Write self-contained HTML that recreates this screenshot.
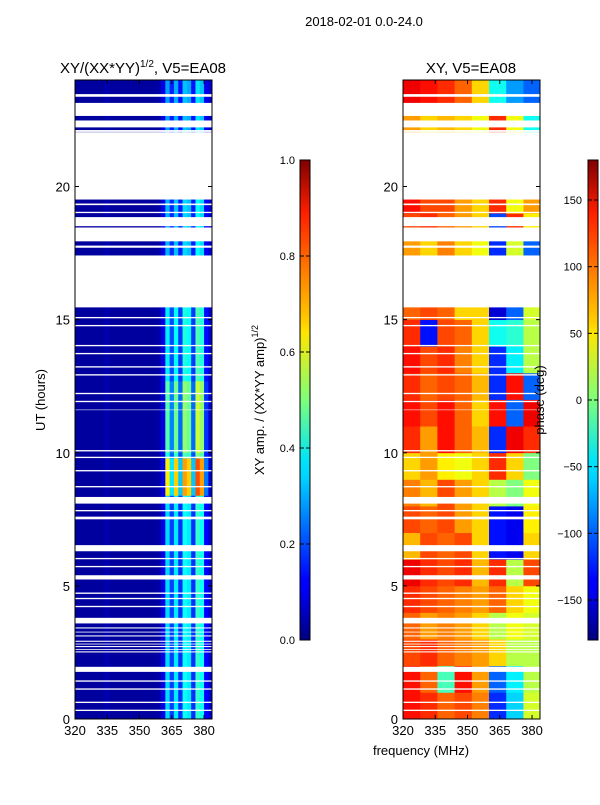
<!DOCTYPE html>
<html><head><meta charset="utf-8"><style>
body{margin:0;background:#fff;}
svg text{font-family:"Liberation Sans","DejaVu Sans",sans-serif;fill:#000;}
</style></head><body>
<svg id="fig" width="600" height="800" xmlns="http://www.w3.org/2000/svg">
<defs>
<linearGradient id="jet" x1="0" y1="1" x2="0" y2="0">
<stop offset="0" stop-color="#00007f"/><stop offset="0.11" stop-color="#0000ff"/><stop offset="0.125" stop-color="#0000ff"/>
<stop offset="0.34" stop-color="#00d4ff"/><stop offset="0.375" stop-color="#00e4f8"/><stop offset="0.5" stop-color="#7dff7a"/>
<stop offset="0.64" stop-color="#ffe600"/><stop offset="0.66" stop-color="#ffd000"/><stop offset="0.89" stop-color="#ff1e00"/>
<stop offset="1" stop-color="#7f0000"/></linearGradient>
</defs>
<text x="364" y="26" text-anchor="middle" font-size="13">2018-02-01 0.0-24.0</text>
<text x="143" y="73" text-anchor="middle" font-size="15">XY/(XX*YY)<tspan font-size="10" dy="-6">1/2</tspan><tspan dy="6">, V5=EA08</tspan></text>
<text x="471" y="73" text-anchor="middle" font-size="15">XY, V5=EA08</text>
<g id="ampPanel"></g>
<g id="phPanel"></g>
<g id="axes"></g>
<text transform="translate(45,400) rotate(-90)" text-anchor="middle" font-size="13">UT (hours)</text>
<text x="421" y="755" text-anchor="middle" font-size="13">frequency (MHz)</text>
<rect x="300" y="160" width="10" height="480" fill="url(#jet)" stroke="#000" stroke-width="1"/>
<rect x="588" y="160" width="10" height="480" fill="url(#jet)" stroke="#000" stroke-width="1"/>
<g id="cb"></g>
<text transform="translate(264,400) rotate(-90)" text-anchor="middle" font-size="13">XY amp. / (XX*YY amp)<tspan font-size="9" dy="-6">1/2</tspan></text>
<text transform="translate(544,400) rotate(-90)" text-anchor="middle" font-size="13">phase (deg)</text>
</svg>
<script>
// ---- data ----
const freqStart = 320, freqEnd = 383.7, tMax = 24;
const ampColFreqs = [320,322,324,326,328,330,332,334,336,338,340,342,344,346,348,350,352,354,356,358,360,362,364,366,368,370,372,374,376,378,380,382];
const ampColProfile = [0.03,0.03,0.03,0.03,0.03,0.03,0.03,0.05,0.03,0.03,0.03,0.03,0.03,0.03,0.03,0.03,0.03,0.03,0.03,0.04,0.1,0.4,0.22,0.42,0.2,0.45,0.42,0.2,0.5,0.45,0.15,0.08];
const ampRowGain = [[0,8.4,0.85],[8.4,9.8,1.6],[9.8,10,1.0],[10,12.7,1.15],[12.7,15.5,0.9],[15.5,19.6,0.75],[19.6,22.5,0.7],[22.5,24,0.7]];
const phaseColFreqs = [320,328,336,344,352,360,368,376];
const phaseBlocks = [
[130,120,100,110,90,-120,-60,30],[130,100,-20,130,80,-100,-50,20],[110,120,100,90,80,60,20,20],
[100,80,90,80,60,20,40,30],[120,110,100,90,80,100,60,40],[140,120,110,120,70,120,20,110],
[70,110,100,110,60,-130,-140,60],[110,100,110,80,60,-130,-140,50],[90,70,110,80,60,20,0,40],
[60,80,50,40,60,120,60,0],[120,80,130,100,70,-120,140,120],[130,110,130,100,60,130,-100,140],
[120,100,110,100,70,-120,130,-100],[130,110,120,90,60,-120,-50,20],[120,-130,110,100,60,-40,-30,20],
[100,110,100,60,60,-150,-100,30],[100,90,100,80,60,-100,0,40],[80,60,90,60,40,-120,30,-100],
[110,120,100,80,60,-110,120,50],[130,110,110,80,60,120,40,80],[100,100,100,80,60,100,40,40],
[100,100,100,80,60,100,40,40],[80,60,70,60,40,120,40,-40],[140,130,120,100,60,-40,-80,-100]];
const gaps = [[23.37,23.47],[22.65,23.14],[22.22,22.48],[22.05,22.12],[19.51,22.04],[19.3,19.36],[19.0,19.05],[18.51,18.85],[17.94,18.46],[17.7,17.78],[15.46,17.41],[15.05,15.1],[14.75,14.8],[14.0,14.05],[13.7,13.75],[13.2,13.25],[12.9,12.95],[12.2,12.25],[11.9,11.95],[11.6,11.62],[10.05,10.1],[9.8,9.85],[9.3,9.35],[8.7,8.75],[8.09,8.34],[7.8,7.85],[7.5,7.6],[6.3,6.53],[6.0,6.05],[5.7,5.75],[5.24,5.4],[4.7,4.75],[4.5,4.55],[4.2,4.25],[3.59,3.8],[3.4,3.44],[3.25,3.28],[3.1,3.14],[2.9,2.94],[2.8,2.83],[2.7,2.74],[2.6,2.63],[2.5,2.54],[1.77,1.96],[1.4,1.45],[1.1,1.15],[0.6,0.65],[0.3,0.35]];
const xTicks = [320,335,350,365,380];
const yTicks = [0,5,10,15,20];
const ampCbTicks = [0.0,0.2,0.4,0.6,0.8,1.0];
const phCbTicks = [150,100,50,0,-50,-100,-150];
// ---- helpers ----
const NS='http://www.w3.org/2000/svg';
const panels=[{x0:75,id:'ampPanel'},{x0:403,id:'phPanel'}];
const W=137, yTop=80, yBot=719;
function xs(x0,f){return x0+(f-freqStart)/(freqEnd-freqStart)*W;}
function ys(h){return yBot-(h/tMax)*(yBot-yTop);}
function jet(v){v=Math.max(0,Math.min(1,v));
 const r=Math.max(0,Math.min(1,1.5-Math.abs(4*v-3))),g=Math.max(0,Math.min(1,1.5-Math.abs(4*v-2))),b=Math.max(0,Math.min(1,1.5-Math.abs(4*v-1)));
 return 'rgb('+Math.round(r*255)+','+Math.round(g*255)+','+Math.round(b*255)+')';}
function mk(tag,attrs,parent){const e=document.createElementNS(NS,tag);for(const k in attrs)e.setAttribute(k,attrs[k]);parent.appendChild(e);return e;}
function gain(h){for(const s of ampRowGain){if(h>=s[0]&&h<s[1])return s[2];}return 1;}
const dt=0.1;
const ap=document.getElementById('ampPanel');
for(let r=0;r<240;r++){const h=r*dt;const g=gain(h);
 for(let c=0;c<ampColFreqs.length;c++){
  const f0=ampColFreqs[c],f1=c+1<ampColFreqs.length?ampColFreqs[c+1]:freqEnd;
  const v=ampColProfile[c]*(ampColProfile[c]>0.1?g:1);
  const e=mk('rect',{x:xs(75,f0).toFixed(2),y:ys(h+dt).toFixed(2),width:(xs(75,f1)-xs(75,f0)+0.4).toFixed(2),height:(ys(h)-ys(h+dt)+0.4).toFixed(2),fill:jet(v)},ap);
  
  
 }}
const pp=document.getElementById('phPanel');
for(let r=0;r<phaseBlocks.length;r++){
 for(let c=0;c<phaseColFreqs.length;c++){
  const f0=phaseColFreqs[c],f1=c+1<phaseColFreqs.length?phaseColFreqs[c+1]:freqEnd;
  const v=(phaseBlocks[r][c]+180)/360;
  const e=mk('rect',{x:xs(403,f0).toFixed(2),y:ys(r+1).toFixed(2),width:(xs(403,f1)-xs(403,f0)+0.4).toFixed(2),height:(ys(r)-ys(r+1)+0.4).toFixed(2),fill:jet(v)},pp);
  
  
 }}
const ax=document.getElementById('axes');
for(const p of panels){
 for(const gp of gaps){
  const e=mk('rect',{x:p.x0,y:ys(gp[1]).toFixed(2),width:W,height:(ys(gp[0])-ys(gp[1])).toFixed(2),fill:'#fff'},ax);
  
  
 }
 const fr=mk('rect',{x:p.x0,y:yTop,width:W,height:yBot-yTop,fill:'none',stroke:'#000','stroke-width':1},ax);
 
 
 for(const t of xTicks){const x=xs(p.x0,t);
  mk('line',{x1:x,x2:x,y1:yBot,y2:yBot-4,stroke:'#000'},ax);mk('line',{x1:x,x2:x,y1:yTop,y2:yTop+4,stroke:'#000'},ax);
  const tx=mk('text',{x:x,y:yBot+16,'text-anchor':'middle','font-size':13},ax);tx.textContent=t;
  
  }
 for(const t of yTicks){const y=ys(t);
  mk('line',{x1:p.x0,x2:p.x0+4,y1:y,y2:y,stroke:'#000'},ax);mk('line',{x1:p.x0+W,x2:p.x0+W-4,y1:y,y2:y,stroke:'#000'},ax);
  const tx=mk('text',{x:p.x0-5,y:y+5,'text-anchor':'end','font-size':13},ax);tx.textContent=t;
  
  }
}
const cb=document.getElementById('cb');
for(const t of ampCbTicks){const y=640-t*480;
 mk('line',{x1:300,x2:304,y1:y,y2:y,stroke:'#000'},cb);mk('line',{x1:306,x2:310,y1:y,y2:y,stroke:'#000'},cb);
 const tx=mk('text',{x:295,y:y+4,'text-anchor':'end','font-size':11},cb);tx.textContent=t.toFixed(1);
 
 }
for(const t of phCbTicks){const y=400-t*240/180;
 mk('line',{x1:588,x2:592,y1:y,y2:y,stroke:'#000'},cb);mk('line',{x1:594,x2:598,y1:y,y2:y,stroke:'#000'},cb);
 const tx=mk('text',{x:582,y:y+4,'text-anchor':'end','font-size':11},cb);tx.textContent=t<0?'\u2212'+(-t):t;
 
 }
</script>
</body></html>
